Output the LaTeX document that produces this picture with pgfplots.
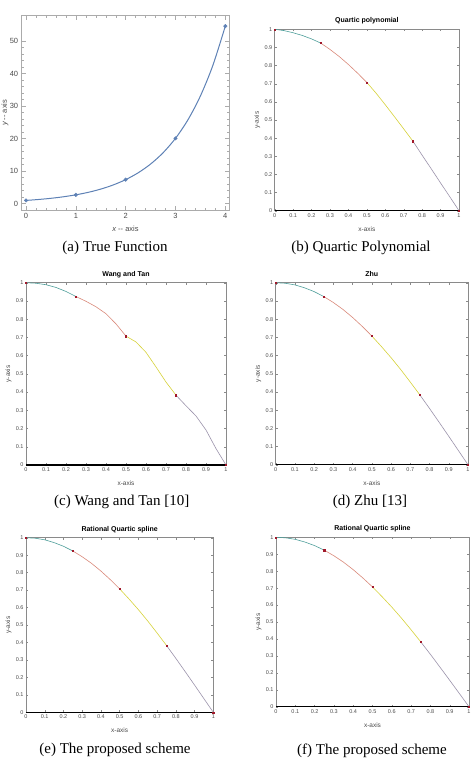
\documentclass[border=0pt]{standalone}
\usepackage{pgfplots}
\pgfplotsset{compat=1.18}
\usepackage{fontspec}
\setmainfont{Liberation Serif}
\newfontfamily\arialf{Liberation Sans}

\definecolor{mmablue}{HTML}{5E81B5}
\definecolor{mmaframe}{HTML}{ABABAB}
\definecolor{mmatext}{HTML}{4A4A4A}
\definecolor{segA}{HTML}{4E9E9A}
\definecolor{segB}{HTML}{D9897A}
\definecolor{segC}{HTML}{D6D23A}
\definecolor{segD}{HTML}{9B93AB}
\definecolor{knot}{HTML}{A0182A}
\definecolor{mlframe}{HTML}{8A8A8A}

\pgfplotsset{
  every axis title shift=0pt,
  % MATLAB-like panel on [0,1]x[0,1]
  mlpanel/.style={
    scale only axis,
    xmin=0, xmax=1, ymin=0, ymax=1,
    xtick={0,0.1,0.2,0.3,0.4,0.5,0.6,0.7,0.8,0.9,1},
    xticklabels={0,0.1,0.2,0.3,0.4,0.5,0.6,0.7,0.8,0.9,1},
    ytick={0,0.1,0.2,0.3,0.4,0.5,0.6,0.7,0.8,0.9,1},
    yticklabels={0,0.1,0.2,0.3,0.4,0.5,0.6,0.7,0.8,0.9,1},
    tick align=inside, major tick length=2pt,
    every tick/.style={mlframe, line width=0.4pt},
    axis line style={mlframe, line width=0.5pt},
    ticklabel style={font=\arialf\fontsize{5.5}{6}\selectfont, text=black!70},
    xticklabel style={yshift=1pt},
    yticklabel style={xshift=1pt},
    /pgf/number format/assume math mode=true,
    xlabel={x-axis}, ylabel={y-axis},
    label style={font=\arialf\fontsize{6.5}{7}\selectfont, text=black!70},
    title style={font=\arialf\bfseries\fontsize{7}{8}\selectfont,
      at={(axis description cs:0.5,1)}, anchor=center, yshift=8.5pt},
    xlabel style={at={(axis description cs:0.5,0)}, anchor=center, yshift=-18pt},
    ylabel style={at={(axis description cs:0,0.5)}, anchor=center, yshift=17.5pt},
    clip=false,
  },
  sA/.style={segA, line width=0.6pt, no markers},
  sB/.style={segB, line width=0.6pt, no markers},
  sC/.style={segC, line width=0.6pt, no markers},
  sD/.style={segD, line width=0.6pt, no markers},
  knots/.style={only marks, mark=square*, mark size=0.6pt, knot},
  baseline/.style={black, line width=1.4pt, no markers},
}

\begin{document}
\begin{tikzpicture}
\useasboundingbox (0,0) rectangle (474pt,-764pt);

% ---------------- (a) True function ----------------
\begin{axis}[
  scale only axis, width=207.6pt, height=194.3pt,
  at={(21.7pt,-210pt)}, anchor=south west,
  xmin=-0.087, xmax=4.08, ymin=-1.95, ymax=57.8,
  xtick={0,1,2,3,4}, ytick={0,10,20,30,40,50},
  minor x tick num=4, minor y tick num=4,
  tick align=inside, major tick length=4pt, minor tick length=2pt,
  every tick/.style={mmaframe, line width=0.4pt},
  axis line style={mmaframe, line width=0.6pt},
  ticklabel style={font=\arialf\fontsize{7.5}{8}\selectfont, text=mmatext},
  /pgf/number format/assume math mode=true,
  xlabel={{\itshape x} -- axis}, ylabel={{\itshape y} -- axis},
  label style={font=\arialf\fontsize{7.5}{8}\selectfont, text=mmatext},
  xlabel style={at={(axis description cs:0.5,0)}, anchor=center, yshift=-18.7pt},
  ylabel style={at={(axis description cs:0,0.5)}, anchor=center, yshift=16.7pt},
  clip=false,
]
\addplot[mmablue, line width=1pt, smooth, no markers] coordinates {
  (0,1) (0.25,1.284) (0.5,1.649) (0.75,2.117) (1,2.718) (1.25,3.490)
  (1.5,4.482) (1.75,5.755) (2,7.389) (2.25,9.488) (2.5,12.182)
  (2.75,15.643) (3,20.086) (3.25,25.790) (3.5,33.115) (3.75,42.521) (4,54.598)};
\addplot[only marks, mark=*, mark size=1.8pt, mmablue] coordinates {
  (0,1) (1,2.718) (2,7.389) (3,20.086) (4,54.598)};
\end{axis}

% ---------------- (b) Quartic polynomial ----------------
\begin{axis}[mlpanel, width=184.3pt, height=181.4pt,
  at={(274.7pt,-210.7pt)}, anchor=south west, title={Quartic polynomial}]
\addplot[sA] coordinates {(0,1) (0.05,0.993) (0.1,0.981) (0.15,0.966) (0.2,0.947) (0.25,0.924)};
\addplot[sB] coordinates {(0.25,0.924) (0.3,0.889) (0.35,0.850) (0.4,0.806) (0.45,0.758) (0.5,0.707)};
\addplot[sC] coordinates {(0.5,0.707) (0.55,0.648) (0.6,0.584) (0.65,0.518) (0.7,0.451) (0.75,0.383)};
\addplot[sD] coordinates {(0.75,0.383) (0.8,0.306) (0.85,0.230) (0.9,0.153) (0.95,0.077) (1,0)};
\addplot[baseline] coordinates {(0,0) (1,0)};
\addplot[knots] coordinates {(0,1) (0.25,0.924) (0.5,0.707) (0.75,0.383) (1,0)};
\end{axis}

% ---------------- (c) Wang and Tan ----------------
\begin{axis}[mlpanel, width=200pt, height=182.3pt,
  at={(26pt,-465pt)}, anchor=south west, title={Wang and Tan}]
\addplot[sA] coordinates {(0,1) (0.05,0.997) (0.1,0.989) (0.15,0.974) (0.2,0.952) (0.25,0.924)};
\addplot[sB] coordinates {(0.25,0.924) (0.3,0.898) (0.35,0.868) (0.4,0.830) (0.45,0.774) (0.5,0.707)};
\addplot[sC] coordinates {(0.5,0.707) (0.55,0.675) (0.6,0.618) (0.65,0.538) (0.7,0.455) (0.75,0.383)};
\addplot[sD] coordinates {(0.75,0.383) (0.8,0.325) (0.85,0.269) (0.9,0.192) (0.95,0.090) (1,0)};
\addplot[baseline] coordinates {(0,0) (1,0)};
\addplot[knots] coordinates {(0,1) (0.25,0.924) (0.5,0.707) (0.75,0.383) (1,0)};
\end{axis}

% ---------------- (d) Zhu ----------------
\begin{axis}[mlpanel, width=192.3pt, height=182pt,
  at={(275.7pt,-464.7pt)}, anchor=south west, title={Zhu}]
\addplot[sA] coordinates {(0,1) (0.05,0.997) (0.1,0.988) (0.15,0.972) (0.2,0.951) (0.25,0.924)};
\addplot[sB] coordinates {(0.25,0.924) (0.3,0.891) (0.35,0.853) (0.4,0.809) (0.45,0.760) (0.5,0.707)};
\addplot[sC] coordinates {(0.5,0.707) (0.55,0.649) (0.6,0.588) (0.65,0.523) (0.7,0.454) (0.75,0.383)};
\addplot[sD] coordinates {(0.75,0.383) (0.8,0.309) (0.85,0.233) (0.9,0.156) (0.95,0.078) (1,0)};
\addplot[baseline] coordinates {(0,0) (1,0)};
\addplot[knots] coordinates {(0,1) (0.25,0.924) (0.5,0.707) (0.75,0.383) (1,0)};
\end{axis}

% ---------------- (e) Rational quartic spline ----------------
\begin{axis}[mlpanel, width=187.3pt, height=174.6pt,
  at={(26pt,-712.3pt)}, anchor=south west, title={Rational Quartic spline}]
\addplot[sA] coordinates {(0,1) (0.05,0.997) (0.1,0.988) (0.15,0.972) (0.2,0.951) (0.25,0.924)};
\addplot[sB] coordinates {(0.25,0.924) (0.3,0.891) (0.35,0.853) (0.4,0.809) (0.45,0.760) (0.5,0.707)};
\addplot[sC] coordinates {(0.5,0.707) (0.55,0.649) (0.6,0.588) (0.65,0.523) (0.7,0.454) (0.75,0.383)};
\addplot[sD] coordinates {(0.75,0.383) (0.8,0.309) (0.85,0.233) (0.9,0.156) (0.95,0.078) (1,0)};
\addplot[baseline] coordinates {(0,0) (1,0)};
\addplot[knots] coordinates {(0,1) (0.25,0.924) (0.5,0.707) (0.75,0.383) (1,0)};
\end{axis}

% ---------------- (f) Rational quartic spline ----------------
\begin{axis}[mlpanel, width=193pt, height=169.4pt,
  at={(276pt,-706.7pt)}, anchor=south west, title={Rational Quartic spline}]
\addplot[sA] coordinates {(0,1) (0.05,0.997) (0.1,0.988) (0.15,0.972) (0.2,0.951) (0.25,0.924)};
\addplot[sB] coordinates {(0.25,0.924) (0.3,0.891) (0.35,0.853) (0.4,0.809) (0.45,0.760) (0.5,0.707)};
\addplot[sC] coordinates {(0.5,0.707) (0.55,0.649) (0.6,0.588) (0.65,0.523) (0.7,0.454) (0.75,0.383)};
\addplot[sD] coordinates {(0.75,0.383) (0.8,0.309) (0.85,0.233) (0.9,0.156) (0.95,0.078) (1,0)};
\addplot[baseline] coordinates {(0,0) (1,0)};
\addplot[knots] coordinates {(0,1) (0.25,0.924) (0.5,0.707) (0.75,0.383) (1,0)};
\end{axis}

% ---------------- sub-captions ----------------
\begin{scope}[every node/.style={font=\fontsize{15}{17}\selectfont, anchor=center}]
\node at (115pt,-248pt) {(a) True Function};
\node at (361pt,-248.3pt) {(b) Quartic Polynomial};
\node at (121.7pt,-501.7pt) {(c) Wang and Tan [10]};
\node at (370pt,-501.7pt) {(d) Zhu [13]};
\node at (115pt,-750pt) {(e) The proposed scheme};
\node at (372pt,-750.7pt) {(f) The proposed scheme};
\end{scope}
\end{tikzpicture}
\end{document}
